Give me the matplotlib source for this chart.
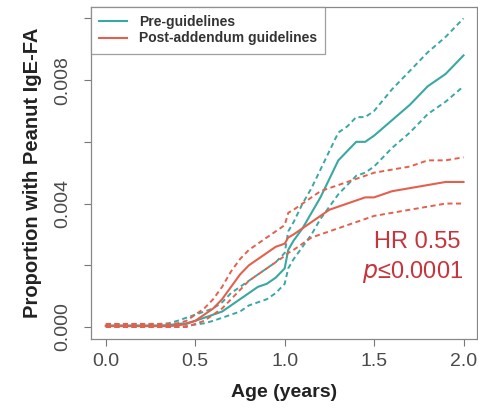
import numpy as np
import matplotlib
matplotlib.use("Agg")
import matplotlib.pyplot as plt

plt.rcParams['font.family'] = ['Liberation Sans', 'DejaVu Sans']

# ages
age = [0.0, 0.1, 0.2, 0.3, 0.35, 0.4, 0.45, 0.5, 0.55, 0.6, 0.65, 0.7, 0.75, 0.8,
       0.85, 0.9, 0.95, 1.0, 1.02, 1.05, 1.1, 1.15, 1.2, 1.25, 1.3, 1.35, 1.4,
       1.45, 1.5, 1.6, 1.7, 1.8, 1.9, 2.0]

pre_mid = [0.00005, 0.00005, 0.00005, 0.00005, 0.00006, 0.0001, 0.00012, 0.0002, 0.0003,
           0.0004, 0.0005, 0.0007, 0.0009, 0.0011, 0.0013, 0.0014, 0.0016, 0.0019,
           0.0025, 0.0028, 0.0032, 0.0037, 0.0042, 0.0048, 0.0054, 0.0057, 0.0060,
           0.0060, 0.0062, 0.0067, 0.0072, 0.0078, 0.0082, 0.0088]
pre_hi = [0.0001, 0.0001, 0.0001, 0.0001, 0.00012, 0.0002, 0.0003, 0.0004, 0.0005,
          0.0006, 0.0008, 0.0011, 0.0013, 0.0015, 0.0017, 0.0019, 0.0021, 0.0024,
          0.0031, 0.0034, 0.0040, 0.0045, 0.0051, 0.0057, 0.0063, 0.0065, 0.0068,
          0.0068, 0.0070, 0.0077, 0.0083, 0.0089, 0.0094, 0.0100]
pre_lo = [0.0, 0.0, 0.0, 0.0, 0.0, 0.0, 0.00003, 0.00008, 0.00012,
          0.0002, 0.0003, 0.0004, 0.0005, 0.0007, 0.0008, 0.0009, 0.0011, 0.0014,
          0.0019, 0.0022, 0.0026, 0.0030, 0.0035, 0.0039, 0.0043, 0.0046, 0.0049,
          0.0050, 0.0052, 0.0058, 0.0063, 0.0069, 0.0073, 0.0078]

post_mid = [0.00003, 0.00003, 0.00003, 0.00003, 0.00003, 0.00005, 0.0001, 0.0002, 0.0004,
            0.0006, 0.0009, 0.0013, 0.0017, 0.0020, 0.0022, 0.0024, 0.0026, 0.0027,
            0.0029, 0.0030, 0.0032, 0.0034, 0.0036, 0.0038, 0.0039, 0.0040, 0.0041,
            0.0042, 0.0042, 0.0044, 0.0045, 0.0046, 0.0047, 0.0047]
post_hi = [0.0001, 0.0001, 0.0001, 0.0001, 0.0001, 0.00012, 0.0002, 0.0004, 0.0006,
           0.0009, 0.0013, 0.0018, 0.0022, 0.0025, 0.0027, 0.0029, 0.0031, 0.0033,
           0.0037, 0.0038, 0.0040, 0.0042, 0.0044, 0.0045, 0.0046, 0.0047, 0.0048,
           0.0049, 0.0050, 0.0051, 0.0052, 0.0054, 0.0054, 0.0055]
post_lo = [0.0, 0.0, 0.0, 0.0, 0.0, 0.0, 0.0, 0.0001, 0.0002,
           0.0004, 0.0006, 0.0009, 0.0012, 0.0015, 0.0017, 0.0019, 0.0021, 0.0023,
           0.0024, 0.0025, 0.0027, 0.0029, 0.0030, 0.0031, 0.0032, 0.0033, 0.0034,
           0.0035, 0.0036, 0.0037, 0.0038, 0.0039, 0.0040, 0.0040]

teal = '#3aa8a2'
red = '#e4604e'
dash = (0, (2.6, 1.8))

fig = plt.figure(figsize=(4.78, 4.09), dpi=100)
ax = fig.add_axes([0.19, 0.171, 0.807, 0.812])

ax.plot(age, pre_mid, color=teal, lw=1.5, label='Pre-guidelines')
ax.plot(age, pre_hi, color=teal, lw=1.4, ls=dash)
ax.plot(age, pre_lo, color=teal, lw=1.4, ls=dash)
ax.plot(age, post_mid, color=red, lw=1.5, label='Post-addendum guidelines')
ax.plot(age, post_hi, color=red, lw=1.4, ls=dash)
ax.plot(age, post_lo, color=red, lw=1.4, ls=dash)

ax.set_xlim(-0.084, 2.073)
ax.set_ylim(-0.00039, 0.01037)
ax.set_xticks([0.0, 0.5, 1.0, 1.5, 2.0])
ax.set_xticklabels(['0.0', '0.5', '1.0', '1.5', '2.0'])
ax.set_yticks([0.0, 0.002, 0.004, 0.006, 0.008, 0.010])
ax.set_yticklabels(['0.000', '', '0.004', '', '0.008', ''], rotation=90, va='center')
ax.tick_params(colors='#777777', labelcolor='#4a4a4a', labelsize=14, length=5, width=0.8)
ax.tick_params(axis='x', pad=5)
ax.tick_params(axis='y', pad=9)
for s in ax.spines.values():
    s.set_color('#888888')
    s.set_linewidth(0.9)

ax.set_xlabel('Age (years)', fontsize=14, fontweight='bold', color='#222222', labelpad=10)
ax.set_ylabel('Proportion with Peanut IgE-FA', fontsize=14.5, fontweight='bold',
              color='#222222', labelpad=9)

ax.text(1.985, 0.00256, 'HR 0.55', color='#c8343c', fontsize=17, ha='right', va='baseline')
ax.text(2.0, 0.00159, r'$p$' + '\u22640.0001', color='#c8343c', fontsize=17,
        ha='right', va='baseline')

leg = ax.legend(loc='upper left', bbox_to_anchor=(0, 1), borderaxespad=0, fancybox=False,
                prop={'weight': 'bold', 'size': 10}, handlelength=2.0, borderpad=0.6,
                labelspacing=0.15, handletextpad=0.85)
leg.get_frame().set_edgecolor('#888888')
leg.get_frame().set_linewidth(0.9)
for t in leg.get_texts():
    t.set_color('#333333')

fig.savefig('out.png', dpi=100)
